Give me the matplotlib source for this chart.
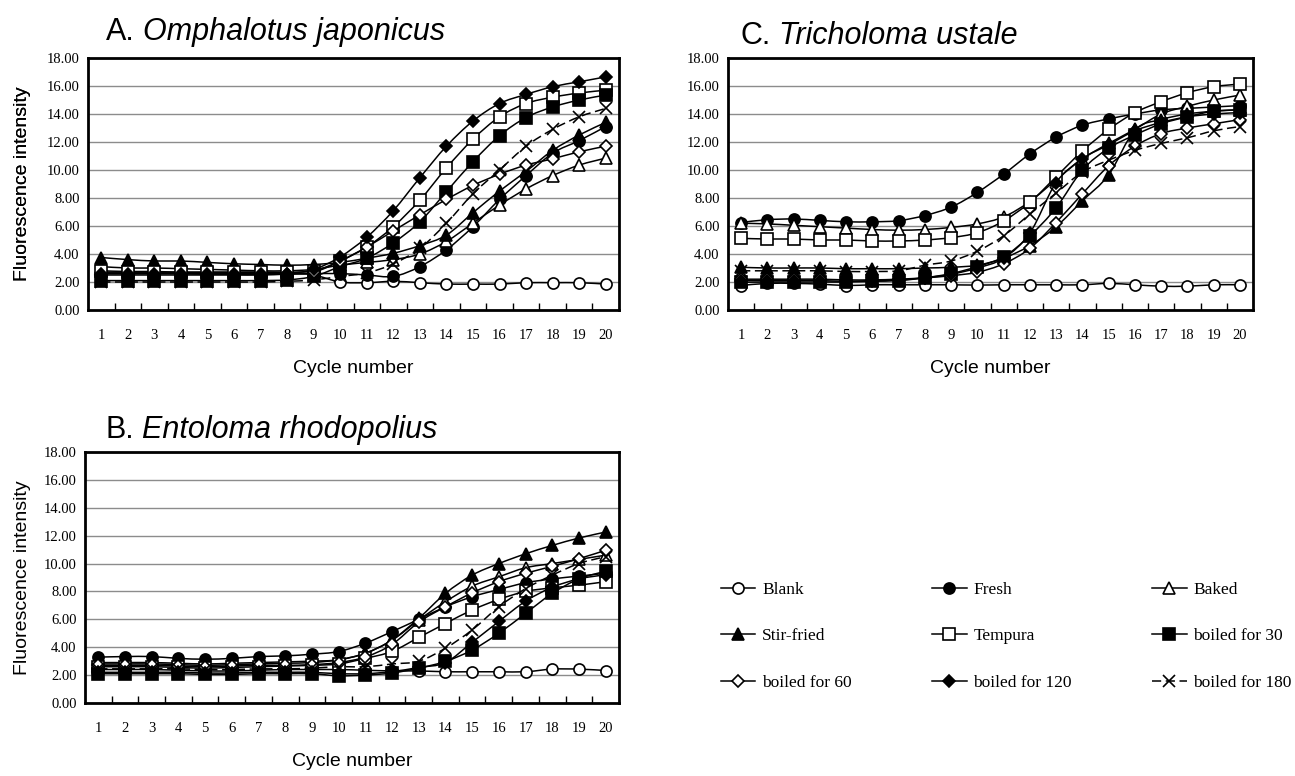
import numpy as np
import matplotlib
matplotlib.use("Agg")
from matplotlib import pyplot as plt
from matplotlib.path import Path
from matplotlib.patches import PathPatch
from matplotlib.lines import Line2D

cycles = list(range(1, 21))

labels = ['Blank', 'Fresh', 'Baked', 'Stir-fried', 'Tempura',
          'boiled for 30', 'boiled for 60', 'boiled for 120', 'boiled for 180']

# A. Omphalotus japonicus
blank_a = [2.7, 2.7, 2.7, 2.7, 2.7, 2.7, 2.7, 2.65, 2.5, 2.0, 1.95, 2.05, 1.95, 1.85, 1.85, 1.85, 1.95, 1.95, 1.95, 1.85]
fresh_a = [2.6, 2.6, 2.6, 2.6, 2.6, 2.6, 2.6, 2.6, 2.6, 2.6, 2.5, 2.4, 3.1, 4.3, 5.95, 7.9, 9.6, 11.2, 12.1, 13.1]
baked_a = [3.1, 3.0, 3.0, 2.95, 2.9, 2.85, 2.8, 2.8, 2.9, 3.2, 3.4, 3.6, 4.0, 4.9, 6.2, 7.5, 8.65, 9.6, 10.35, 10.85]
stir_a = [3.75, 3.6, 3.5, 3.5, 3.4, 3.3, 3.25, 3.2, 3.25, 3.4, 3.7, 4.05, 4.6, 5.35, 6.95, 8.5, 9.9, 11.4, 12.5, 13.4]
tempura_a = [2.8, 2.75, 2.75, 2.7, 2.7, 2.7, 2.7, 2.7, 2.8, 3.5, 4.5, 5.95, 7.85, 10.15, 12.2, 13.8, 14.75, 15.2, 15.5, 15.7]
boil30_a = [2.1, 2.1, 2.1, 2.1, 2.1, 2.1, 2.1, 2.15, 2.4, 3.1, 3.7, 4.8, 6.3, 8.45, 10.6, 12.45, 13.75, 14.5, 15.0, 15.35]
boil60_a = [2.6, 2.6, 2.6, 2.6, 2.55, 2.55, 2.55, 2.55, 2.7, 3.5, 4.5, 5.65, 6.8, 7.9, 8.9, 9.7, 10.35, 10.8, 11.3, 11.7]
boil120_a = [2.5, 2.5, 2.5, 2.5, 2.5, 2.5, 2.5, 2.6, 2.9, 3.8, 5.2, 7.1, 9.45, 11.7, 13.5, 14.75, 15.4, 15.95, 16.3, 16.65]
boil180_a = [2.0, 2.0, 2.0, 2.0, 2.0, 2.0, 2.0, 2.05, 2.15, 2.4, 2.65, 3.3, 4.4, 6.2, 8.3, 10.0, 11.7, 12.9, 13.8, 14.4]

# C. Tricholoma ustale
blank_c = [1.75, 1.9, 1.9, 1.85, 1.75, 1.8, 1.8, 1.8, 1.8, 1.78, 1.8, 1.8, 1.8, 1.8, 1.9, 1.8, 1.7, 1.7, 1.8, 1.8]
fresh_c = [6.25, 6.45, 6.5, 6.4, 6.3, 6.3, 6.38, 6.75, 7.35, 8.4, 9.7, 11.15, 12.35, 13.2, 13.65, 14.0, 14.3, 14.4, 14.5, 14.6]
baked_c = [6.2, 6.15, 6.05, 5.95, 5.85, 5.75, 5.7, 5.75, 5.9, 6.15, 6.65, 7.75, 9.3, 10.8, 11.9, 12.9, 14.0, 14.55, 15.0, 15.35]
stir_c = [3.05, 3.0, 3.0, 3.0, 2.95, 2.95, 2.95, 3.0, 3.05, 3.2, 3.7, 4.6, 5.95, 7.8, 9.65, 12.85, 13.6, 14.0, 14.2, 14.3]
tempura_c = [5.12, 5.07, 5.07, 5.0, 5.0, 4.93, 4.93, 5.0, 5.17, 5.52, 6.36, 7.69, 9.52, 11.36, 12.9, 14.1, 14.88, 15.52, 15.95, 16.14]
boil30_c = [1.98, 2.0, 2.0, 2.0, 2.0, 2.05, 2.1, 2.3, 2.6, 3.1, 3.8, 5.3, 7.3, 10.0, 11.55, 12.5, 13.3, 13.8, 14.2, 14.3]
boil60_c = [2.2, 2.2, 2.2, 2.2, 2.15, 2.15, 2.2, 2.3, 2.45, 2.7, 3.3, 4.4, 6.25, 8.3, 10.3, 11.7, 12.6, 13.0, 13.3, 13.6]
boil120_c = [2.1, 2.1, 2.1, 2.1, 2.05, 2.1, 2.15, 2.3, 2.55, 3.0, 3.7, 5.5, 9.1, 10.8, 11.8, 12.8, 13.4, 13.8, 14.0, 14.1]
boil180_c = [2.8, 2.8, 2.8, 2.8, 2.75, 2.75, 2.8, 3.2, 3.5, 4.2, 5.3, 6.85, 8.35, 9.85, 10.7, 11.4, 11.9, 12.3, 12.8, 13.1]

# B. Entoloma rhodopolius
blank_b = [2.4, 2.4, 2.4, 2.35, 2.3, 2.3, 2.35, 2.4, 2.4, 2.4, 2.35, 2.3, 2.3, 2.24, 2.24, 2.24, 2.24, 2.43, 2.43, 2.33]
fresh_b = [3.29, 3.33, 3.33, 3.2, 3.14, 3.2, 3.33, 3.38, 3.5, 3.69, 4.29, 5.12, 6.0, 6.9, 7.62, 8.14, 8.62, 8.9, 9.1, 9.3]
baked_b = [2.9, 2.9, 2.9, 2.85, 2.8, 2.85, 2.9, 2.95, 3.0, 3.1, 3.57, 4.5, 5.95, 7.26, 8.38, 9.05, 9.7, 10.0, 10.3, 10.6]
stir_b = [2.8, 2.8, 2.8, 2.75, 2.7, 2.75, 2.8, 2.85, 2.9, 3.1, 3.57, 4.52, 6.07, 7.86, 9.17, 10.0, 10.7, 11.3, 11.83, 12.26]
tempura_b = [2.6, 2.6, 2.6, 2.55, 2.5, 2.55, 2.6, 2.65, 2.7, 2.8, 3.2, 3.7, 4.7, 5.7, 6.67, 7.43, 8.0, 8.26, 8.45, 8.7]
boil30_b = [2.1, 2.1, 2.1, 2.1, 2.05, 2.05, 2.1, 2.1, 2.1, 1.95, 2.0, 2.15, 2.5, 2.98, 3.8, 5.0, 6.43, 7.86, 8.9, 9.45]
boil60_b = [2.7, 2.7, 2.7, 2.65, 2.6, 2.65, 2.7, 2.7, 2.75, 2.9, 3.3, 4.2, 5.8, 6.9, 7.9, 8.7, 9.3, 9.8, 10.35, 10.95]
boil120_b = [2.2, 2.2, 2.2, 2.2, 2.15, 2.15, 2.2, 2.2, 2.2, 2.1, 2.1, 2.25, 2.55, 2.9, 4.35, 5.85, 7.3, 8.3, 8.9, 9.2]
boil180_b = [2.45, 2.45, 2.45, 2.45, 2.4, 2.4, 2.45, 2.45, 2.5, 2.6, 2.6, 2.8, 3.0, 3.93, 5.24, 6.9, 8.2, 9.17, 10.0, 10.5]

panels = [
    ('A.', 'Omphalotus japonicus',
     [blank_a, fresh_a, baked_a, stir_a, tempura_a, boil30_a, boil60_a, boil120_a, boil180_a]),
    ('C.', 'Tricholoma ustale',
     [blank_c, fresh_c, baked_c, stir_c, tempura_c, boil30_c, boil60_c, boil120_c, boil180_c]),
    ('B.', 'Entoloma rhodopolius',
     [blank_b, fresh_b, baked_b, stir_b, tempura_b, boil30_b, boil60_b, boil120_b, boil180_b]),
]

# marker, face colour, size
styles = [('o', 'white', 8), ('o', 'black', 8), ('^', 'white', 9), ('^', 'black', 9),
          ('s', 'white', 8), ('s', 'black', 8), ('D', 'white', 6.5), ('D', 'black', 6.5),
          ('x', 'black', 9)]
dash = (0, (6, 3))


def smooth_path(x, y):
    # Excel-like smoothed line: cubic bezier through the points
    x = np.asarray(x, float)
    y = np.asarray(y, float)
    n = len(x)
    verts = [(x[0], y[0])]
    codes = [Path.MOVETO]
    for k in range(n - 1):
        p0 = max(k - 1, 0)
        p3 = min(k + 2, n - 1)
        c1 = (x[k] + (x[k + 1] - x[p0]) / 6, y[k] + (y[k + 1] - y[p0]) / 6)
        c2 = (x[k + 1] - (x[p3] - x[k]) / 6, y[k + 1] - (y[p3] - y[k]) / 6)
        verts += [c1, c2, (x[k + 1], y[k + 1])]
        codes += [Path.CURVE4] * 3
    return Path(verts, codes)


W, H = 1295, 776
# axes boxes in pixels: left, top, right, bottom
boxes = [(88, 58, 619, 310), (728, 58, 1253, 310), (85, 452, 619, 703)]
title_pos = [(106, 32), (740, 36), (105, 430)]

serif = 'Liberation Serif'
sans = 'Liberation Sans'

fig = plt.figure(figsize=(W / 100, H / 100), dpi=100)

for (letter, species, series), (l, t, r, b), (tx, ty) in zip(panels, boxes, title_pos):
    ax = fig.add_axes([l / W, 1 - b / H, (r - l) / W, (b - t) / H])
    for i, vals in enumerate(series):
        m, fc, ms = styles[i]
        ls = dash if i == 8 else '-'
        ax.add_patch(PathPatch(smooth_path(cycles, vals), facecolor='none', edgecolor='black',
                               lw=1.1, linestyle=ls, zorder=3 + i))
        ax.plot(cycles, vals, linestyle='none', marker=m, markerfacecolor=fc,
                markeredgecolor='black', markersize=ms, markeredgewidth=1.2,
                clip_on=False, zorder=3.5 + i)

    ax.set_xlim(0.5, 20.5)
    ax.set_ylim(0, 18)
    ax.set_yticks(np.arange(0, 19, 2))
    ax.set_yticklabels([f'{v:.2f}' for v in np.arange(0, 19, 2)], family=serif, fontsize=10.5)
    ax.set_xticks(cycles)
    ax.set_xticklabels([str(c) for c in cycles], family=serif, fontsize=10.5)
    ax.set_xticks(np.arange(1.5, 20, 1), minor=True)
    ax.tick_params(axis='both', which='major', length=0, pad=6)
    ax.tick_params(axis='x', which='major', pad=14)
    ax.tick_params(axis='x', which='minor', direction='in', length=5, width=1, color='black')
    ax.grid(axis='y', color='#8c8c8c', lw=1)
    ax.set_axisbelow(True)
    for s in ax.spines.values():
        s.set_linewidth(2)

    ax.set_ylabel('Fluorescence intensity', family=sans, fontsize=14)
    ax.yaxis.set_label_coords((31 - l) / (r - l), 0.5)
    ax.set_xlabel('Cycle number', family=sans, fontsize=14)
    ax.xaxis.set_label_coords(0.5, -50 / (b - t))

    t1 = fig.text(tx / W, 1 - ty / H, letter, family=sans, fontsize=22, va='center', ha='left')
    ax.annotate(species, xy=(1, 0), xycoords=t1, xytext=(6, 0), textcoords='offset points',
                family=sans, fontsize=22, style='italic', ha='left', va='bottom',
                annotation_clip=False)

handles = []
for i in range(9):
    m, fc, ms = styles[i]
    handles.append(Line2D([], [], color='black', lw=1.1, linestyle=dash if i == 8 else '-',
                          marker=m, markerfacecolor=fc, markeredgecolor='black',
                          markersize=ms, markeredgewidth=1.2))

# legend is filled column by column, so reorder to read row by row
order = [0, 3, 6, 1, 4, 7, 2, 5, 8]
fig.legend([handles[i] for i in order], [labels[i] for i in order], ncol=3,
           loc='upper left', bbox_to_anchor=(705 / W, 1 - 566 / H), frameon=False,
           prop={'family': serif, 'size': 12.5}, handlelength=2.0, handletextpad=0.4,
           columnspacing=4.6, labelspacing=1.75)

fig.savefig('out.png', dpi=100)
